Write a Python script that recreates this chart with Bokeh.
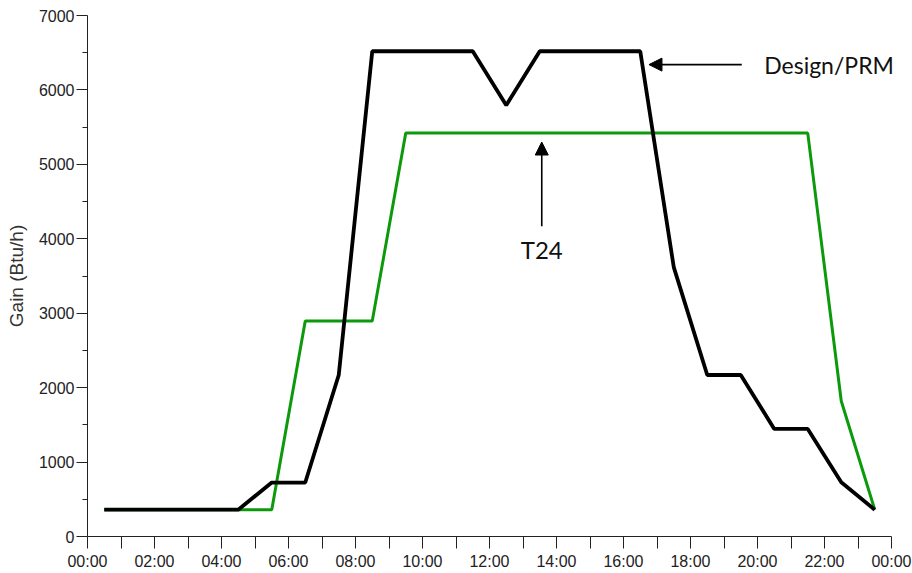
from bokeh.plotting import figure
from bokeh.models import FixedTicker, Arrow, NormalHead, Range1d, Label
from bokeh.embed import file_html
from bokeh.resources import INLINE

hours = [0.5, 1.5, 2.5, 3.5, 4.5, 5.5, 6.5, 7.5, 8.5, 9.5, 10.5, 11.5,
         12.5, 13.5, 14.5, 15.5, 16.5, 17.5, 18.5, 19.5, 20.5, 21.5, 22.5, 23.5]
design_prm = [360, 360, 360, 360, 360, 725, 725, 2170, 6520, 6520, 6520, 6520,
              5795, 6520, 6520, 6520, 6520, 3620, 2170, 2170, 1445, 1445, 730, 360]
t24 = [360, 360, 360, 360, 360, 360, 2895, 2895, 2895, 5420, 5420, 5420,
       5420, 5420, 5420, 5420, 5420, 5420, 5420, 5420, 5420, 5420, 1820, 360]

x_ticks = list(range(0, 25))
x_labels = {h: ("%02d:00" % (h % 24) if h % 2 == 0 else "") for h in x_ticks}
y_ticks = [0, 1000, 2000, 3000, 4000, 5000, 6000, 7000]
y_minor = [500, 1500, 2500, 3500, 4500, 5500, 6500]

# annotation anchors (data coordinates)
prm_arrow = dict(x_start=19.53, y_start=6340, x_end=16.76, y_end=6340)
prm_text = dict(x=20.2, y=6340, text="Design/PRM")
t24_arrow = dict(x_start=13.56, y_start=4170, x_end=13.56, y_end=5300)
t24_text = dict(x=13.56, y=3860, text="T24")

W, H = 912, 572
left, right_axis_px = 87, 891
x_end = 24 * (W - left) / (right_axis_px - left)

p = figure(width=W, height=H, output_backend="svg", toolbar_location=None,
           x_range=Range1d(0, x_end), y_range=Range1d(0, 7000),
           min_border_left=left, min_border_right=0, min_border_top=15,
           min_border_bottom=H - 537)
p.outline_line_color = None
p.xgrid.visible = False
p.ygrid.visible = False
p.background_fill_color = "white"
p.border_fill_color = "white"

p.line(hours, t24, line_color="#0c9a0c", line_width=3)
p.line(hours, design_prm, line_color="black", line_width=3.8)

xa = p.xaxis[0]
xa.bounds = (0, 24)
xa.ticker = FixedTicker(ticks=x_ticks)
xa.major_label_overrides = x_labels
xa.major_tick_out = 12
xa.major_tick_in = 0
xa.minor_tick_out = 0
xa.major_label_standoff = 4
xa.axis_line_color = "#222222"
xa.major_tick_line_color = "#222222"
xa.major_label_text_font = "Liberation Sans"
xa.major_label_text_font_size = "16px"
xa.major_label_text_color = "#222222"

ya = p.yaxis[0]
ya.ticker = FixedTicker(ticks=y_ticks, minor_ticks=y_minor)
ya.major_tick_out = 11
ya.major_tick_in = 0
ya.minor_tick_out = 5
ya.minor_tick_in = 0
ya.major_label_standoff = 2
ya.axis_line_color = "#222222"
ya.major_tick_line_color = "#222222"
ya.minor_tick_line_color = "#222222"
ya.major_label_text_font = "Liberation Sans"
ya.major_label_text_font_size = "16px"
ya.major_label_text_color = "#222222"
ya.axis_label = "Gain (Btu/h)"
ya.axis_label_text_font = "Liberation Sans"
ya.axis_label_text_font_size = "19px"
ya.axis_label_text_font_style = "normal"
ya.axis_label_text_color = "#333333"
ya.axis_label_standoff = 9

for arr in (prm_arrow, t24_arrow):
    p.add_layout(Arrow(end=NormalHead(size=13, fill_color="black", line_color="black"),
                       line_color="black", line_width=1.6, **arr))

p.add_layout(Label(text_font="Lato", text_font_size="23px", text_color="#111111",
                   text_baseline="middle", text_align="left", **prm_text))
p.add_layout(Label(text_font="Lato", text_font_size="24px", text_color="#111111",
                   text_baseline="middle", text_align="center", **t24_text))

open("out.html", "w").write(file_html(p, INLINE))
